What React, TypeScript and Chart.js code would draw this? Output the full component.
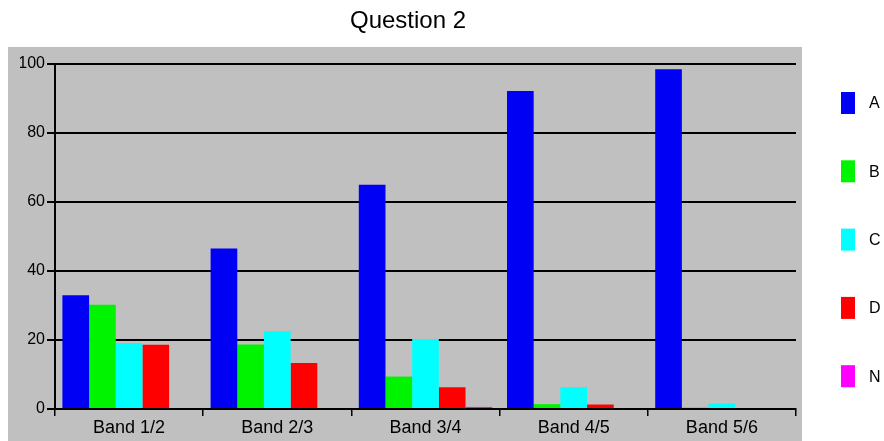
import React, { useEffect, useRef } from "react";
import { Chart, registerables } from "chart.js";

Chart.register(...registerables);

const categories = ["Band 1/2", "Band 2/3", "Band 3/4", "Band 4/5", "Band 5/6"];
const seriesLabels = ["A", "B", "C", "D", "N"];
const seriesA = [33, 46.5, 65, 92.2, 98.5];
const seriesB = [30.2, 18.7, 9.4, 1.4, 0.4];
const seriesC = [19.1, 22.6, 20.3, 6.3, 1.6];
const seriesD = [18.6, 13.3, 6.3, 1.3, 0];
const seriesN = [0, 0, 0.6, 0, 0];
const seriesColors = ["#0000f4", "#00f400", "#00ffff", "#ff0000", "#ff00ff"];
const yTicks = [0, 20, 40, 60, 80, 100];

const FONT = "'Liberation Sans', Arial, sans-serif";

const bgPlugin = {
  id: "bgPlugin",
  beforeDraw(chart: any) {
    const ctx = chart.ctx;
    ctx.save();
    ctx.fillStyle = "#ffffff";
    ctx.fillRect(0, 0, chart.width, chart.height);
    ctx.fillStyle = "#c0c0c0";
    ctx.fillRect(8, 47, 794, chart.height - 47);
    ctx.restore();
  },
};

const legendPlugin = {
  id: "sideLegend",
  afterDraw(chart: any) {
    const ctx = chart.ctx;
    ctx.save();
    ctx.font = "16px " + FONT;
    ctx.textBaseline = "middle";
    ctx.textAlign = "left";
    chart.data.datasets.forEach((ds: any, i: number) => {
      const y = 92 + i * 68.3;
      ctx.fillStyle = ds.backgroundColor;
      ctx.fillRect(841, y, 14, 22);
      ctx.fillStyle = "#000000";
      ctx.fillText(ds.label, 869, y + 12);
    });
    ctx.restore();
  },
};

export default function App() {
  const ref = useRef<HTMLCanvasElement>(null);
  useEffect(() => {
    if (!ref.current) return;
    const all = [seriesA, seriesB, seriesC, seriesD, seriesN];
    const chart = new Chart(ref.current, {
      type: "bar",
      data: {
        labels: categories,
        datasets: all.map((d, i) => ({
          label: seriesLabels[i],
          data: d,
          backgroundColor: seriesColors[i],
          borderWidth: 0,
          categoryPercentage: 0.9,
          barPercentage: 1.0,
        })),
      },
      options: {
        animation: false,
        responsive: false,
        maintainAspectRatio: false,
        layout: { padding: { left: 20, right: 88, top: 0, bottom: 0 } },
        plugins: {
          legend: { display: false },
          tooltip: { enabled: false },
          title: {
            display: true,
            text: "Question 2",
            color: "#000000",
            font: { family: FONT, size: 24, weight: "normal", lineHeight: 1.2 },
            padding: { top: 7, bottom: 28.2 },
          },
        },
        scales: {
          x: {
            offset: true,
            afterFit: (s: any) => {
              s.height = 32;
            },
            grid: {
              offset: true,
              drawOnChartArea: false,
              color: "#000000",
              lineWidth: 1.5,
              tickLength: 7,
            },
            border: { display: true, color: "#000000", width: 2 },
            ticks: {
              color: "#000000",
              font: { family: FONT, size: 18 },
              padding: 1,
            },
          },
          y: {
            min: 0,
            max: 100,
            afterFit: (s: any) => {
              s.width = 35;
            },
            afterBuildTicks: (s: any) => {
              s.ticks = yTicks.map((v) => ({ value: v }));
            },
            grid: { color: "#000000", lineWidth: 2, tickLength: 8 },
            border: { display: true, color: "#000000", width: 2 },
            ticks: {
              color: "#000000",
              font: { family: FONT, size: 16 },
              padding: 2,
            },
          },
        },
      },
      plugins: [bgPlugin, legendPlugin],
    });
    return () => chart.destroy();
  }, []);
  return (
    <div style={{ position: "absolute", left: 0, top: 0, width: 884, height: 441 }}>
      <canvas ref={ref} width={884} height={441} style={{ width: 884, height: 441, display: "block" }} />
    </div>
  );
}
